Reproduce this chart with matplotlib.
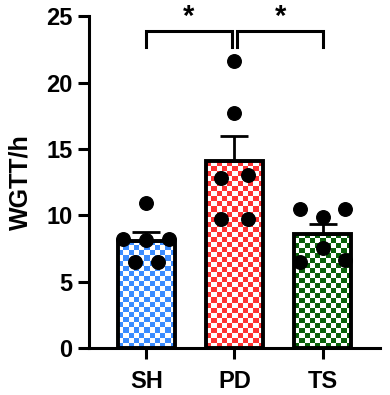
import numpy as np
import matplotlib
matplotlib.use("Agg")
import matplotlib.pyplot as plt
from matplotlib.colors import to_rgb

plt.rcParams['font.family'] = ['Liberation Sans', 'DejaVu Sans']
plt.rcParams['font.weight'] = 'bold'

groups = ["SH", "PD", "TS"]
sh_vals = [10.9, 8.2, 8.1, 8.2, 6.5, 6.5]
pd_vals = [21.6, 17.7, 12.8, 13.0, 9.7, 9.7]
ts_vals = [10.5, 10.5, 9.9, 7.55, 6.5, 6.6]
sh_off = [0.0, -0.26, 0.0, 0.26, -0.13, 0.13]
pd_off = [0.0, 0.0, -0.15, 0.15, -0.15, 0.15]
ts_off = [-0.26, 0.26, 0.0, 0.0, -0.26, 0.26]
colors = ["#3b8cff", "#ff3333", "#0a600a"]
yticks = [0, 5, 10, 15, 20, 25]

data = [sh_vals, pd_vals, ts_vals]
offs = [sh_off, pd_off, ts_off]
means = [np.mean(v) for v in data]
sems = [np.std(v, ddof=1) / np.sqrt(len(v)) for v in data]

fig = plt.figure(figsize=(3.9, 3.95), dpi=100)
ax = fig.add_axes([0.228, 0.119, 0.746, 0.840])
x = np.arange(len(groups))
bw = 0.65
ax.set_xlim(-0.65, 2.65)
ax.set_ylim(0, 25)

bars = ax.bar(x, means, width=bw, facecolor='none', edgecolor='black',
              linewidth=2.8, zorder=3)

# checkerboard fills clipped to each bar
fig.canvas.draw()
cell_px = 5.0
for b, c in zip(bars, colors):
    x0, y0 = b.get_x(), b.get_y()
    w, h = b.get_width(), b.get_height()
    p0 = ax.transData.transform((x0, y0))
    p1 = ax.transData.transform((x0 + w, y0 + h))
    nx = max(1, int(round(abs(p1[0] - p0[0]) / cell_px)))
    ny = max(1, int(round(abs(p1[1] - p0[1]) / cell_px)))
    ii, jj = np.meshgrid(np.arange(nx), np.arange(ny))
    mask = (ii + jj) % 2 == 0
    img = np.ones((ny, nx, 3))
    img[mask] = to_rgb(c)
    im = ax.imshow(img, extent=(x0, x0 + w, y0, y0 + h), origin='lower',
                   interpolation='nearest', aspect='auto', zorder=2)
    im.set_clip_path(b)

ax.set_aspect('auto')
ax.set_xlim(-0.65, 2.65)
ax.set_ylim(0, 25)

ax.errorbar(x, means, yerr=[np.zeros(3), sems], fmt='none', ecolor='black',
            elinewidth=2.0, capsize=10, capthick=2.0, zorder=4)

for xi, vals, o in zip(x, data, offs):
    ax.scatter(xi + np.array(o), vals, s=95, color='black', zorder=5,
               clip_on=False)

# significance brackets
def bracket(xa, xb, y, drop):
    ax.plot([xa, xa, xb, xb], [y - drop, y, y, y - drop], color='black',
            lw=2.2, clip_on=False, zorder=5, solid_joinstyle='miter')

bracket(0, 0.97, 23.9, 1.25)
bracket(1.03, 2, 23.9, 1.25)
ax.text(0.48, 24.35, "*", ha='center', va='baseline', fontsize=21,
        fontweight='bold', clip_on=False)
ax.text(1.52, 24.35, "*", ha='center', va='baseline', fontsize=21,
        fontweight='bold', clip_on=False)

for s in ['top', 'right']:
    ax.spines[s].set_visible(False)
for s in ['left', 'bottom']:
    ax.spines[s].set_linewidth(2.2)

ax.set_xticks(x)
ax.set_xticklabels(groups, fontsize=17, fontweight='bold')
ax.set_yticks(yticks)
ax.set_yticklabels([str(t) for t in yticks], fontsize=17, fontweight='bold')
ax.tick_params(axis='both', width=2.2, length=8, pad=4)
ax.tick_params(axis='x', pad=8)
ax.set_ylabel("WGTT/h", fontsize=18, fontweight='bold', labelpad=10)

fig.savefig("out.png", dpi=100)
